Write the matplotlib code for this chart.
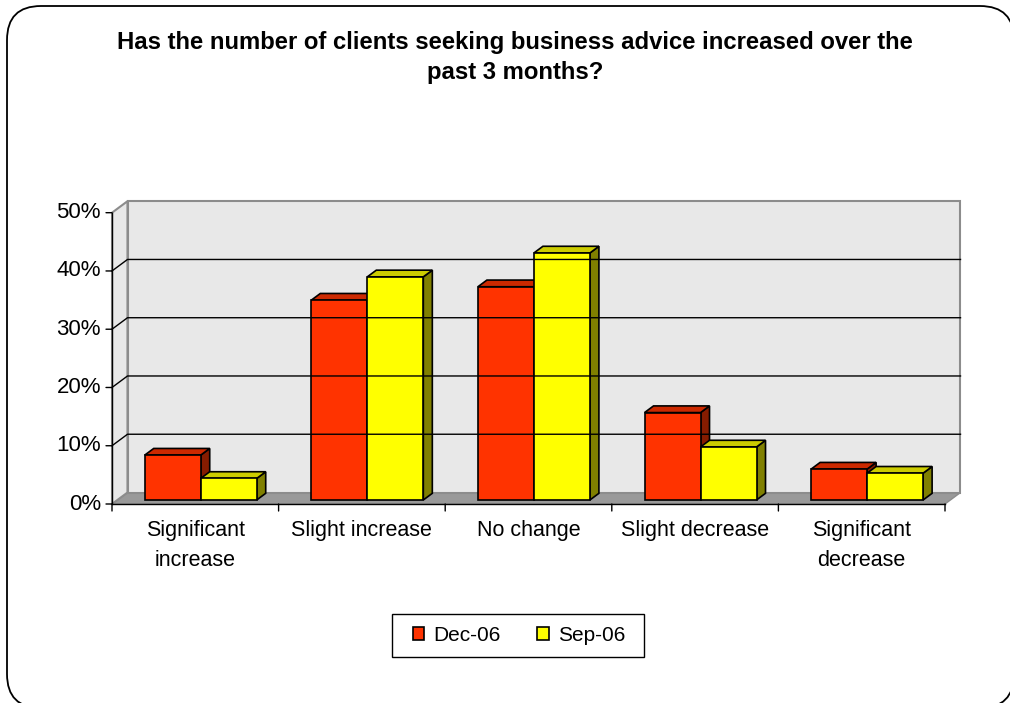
import matplotlib.pyplot as plt
import numpy as np
from matplotlib.patches import Polygon, Rectangle, FancyBboxPatch, Patch

plt.rcParams['font.family'] = ['Liberation Sans', 'DejaVu Sans']

# survey answers (% of respondents)
categories = ["Significant\nincrease", "Slight increase", "No change",
              "Slight decrease", "Significant\ndecrease"]
dec06 = [7.7, 34.3, 36.6, 15.0, 5.3]
sep06 = [3.7, 38.3, 42.4, 9.1, 4.6]
series_names = ["Dec-06", "Sep-06"]
yticks = [0, 10, 20, 30, 40, 50]

W, H = 1010, 703
fig = plt.figure(figsize=(W / 100, H / 100), dpi=100)

# rounded frame around the whole chart
bg = fig.add_axes([0, 0, 1, 1])
bg.set_xlim(0, W)
bg.set_ylim(H, 0)
bg.axis('off')
bg.add_patch(FancyBboxPatch((7, 6), 1007, 702, boxstyle="round,pad=0,rounding_size=34",
                            fc='white', ec='black', lw=1.3))
# legend frame
bg.add_patch(Rectangle((392, 614), 252, 43, fc='white', ec='black', lw=1.0))

# front plane of the plot area in pixels
x0, x1 = 112, 945
ybot, ytop = 504, 212.7
ax = fig.add_axes([x0 / W, (H - ybot) / H, (x1 - x0) / W, (ybot - ytop) / H])
ax.set_xlim(0, len(categories))
ax.set_ylim(0, 50)
ax.axis('off')
ax.patch.set_visible(False)

sx = (x1 - x0) / len(categories)   # px per category
sy = (ybot - ytop) / 50            # px per percent
DX, DY = 15.5 / sx, 11.5 / sy      # full depth of the box
n = len(categories)
ymax = 50


def poly(pts, **kw):
    ax.add_patch(Polygon(pts, closed=True, clip_on=False, **kw))


wall = '#e8e8e8'
edge = '#8c8c8c'
# floor, side wall and back wall
poly([(0, 0), (n, 0), (n + DX, DY), (DX, DY)], fc='#999999', ec=edge, lw=1.0)
poly([(0, 0), (DX, DY), (DX, ymax + DY), (0, ymax)], fc=wall, ec=edge, lw=1.5)
poly([(DX, DY), (n + DX, DY), (n + DX, ymax + DY), (DX, ymax + DY)], fc=wall, ec=edge, lw=1.5)

# gridlines on side and back walls
for t in yticks[1:-1]:
    ax.plot([0, DX, n + DX], [t, t + DY, t + DY], color='black', lw=1.0, clip_on=False)

# bars as boxes
bw = 56 / sx
d0, d1 = 0.35, 0.93
styles = [('#ff3300', '#cc2900', '#861c00'), ('#ffff00', '#cccc00', '#808000')]
for i in range(n):
    for j, vals in enumerate([dec06, sep06]):
        v = vals[i]
        front, top, side = styles[j]
        left = i + 0.5 - bw + j * bw + d0 * DX
        right = left + bw
        b = d0 * DY
        dx, dy = (d1 - d0) * DX, (d1 - d0) * DY
        poly([(right, b), (right + dx, b + dy), (right + dx, b + v + dy), (right, b + v)],
             fc=side, ec='black', lw=1.2)
        poly([(left, b + v), (right, b + v), (right + dx, b + v + dy), (left + dx, b + v + dy)],
             fc=top, ec='black', lw=1.2)
        ax.add_patch(Rectangle((left, b), bw, v, fc=front, ec='black', lw=1.2, clip_on=False))

# value axis
ax.plot([0, 0], [0, ymax], color='black', lw=1.0, clip_on=False)
for t in yticks:
    ax.annotate('', xy=(0, t), xytext=(-6, 0), textcoords='offset pixels',
                arrowprops=dict(arrowstyle='-', color='black', lw=1.0, shrinkA=0, shrinkB=0))
    ax.annotate(f"{t}%", xy=(0, t), xytext=(-11, 0), textcoords='offset pixels',
                ha='right', va='center', fontsize=16)

# category axis
ax.plot([0, n], [0, 0], color='black', lw=1.0, clip_on=False)
for k in range(n + 1):
    ax.annotate('', xy=(k, 0), xytext=(0, -7), textcoords='offset pixels',
                arrowprops=dict(arrowstyle='-', color='black', lw=1.0, shrinkA=0, shrinkB=0))
for i, lab in enumerate(categories):
    ax.annotate(lab, xy=(i + 0.5, 0), xytext=(0, -16), textcoords='offset pixels',
                ha='center', va='top', fontsize=15.5, linespacing=1.55)

fig.text(515 / W, 1 - 31.5 / H,
         "Has the number of clients seeking business advice increased over the\npast 3 months?",
         ha='center', va='top', fontsize=17.2, fontweight='bold', linespacing=1.37)

handles = [Patch(fc=s[0], ec='black', lw=1.2) for s in styles]
leg = fig.legend(handles, series_names, loc='center', ncol=2,
                 bbox_to_anchor=(519 / W, 1 - 635.5 / H), fontsize=15,
                 frameon=False, handlelength=0.55, handleheight=0.55,
                 handletextpad=0.45, columnspacing=1.75, borderpad=0.3)

fig.savefig('out.png', dpi=100)
